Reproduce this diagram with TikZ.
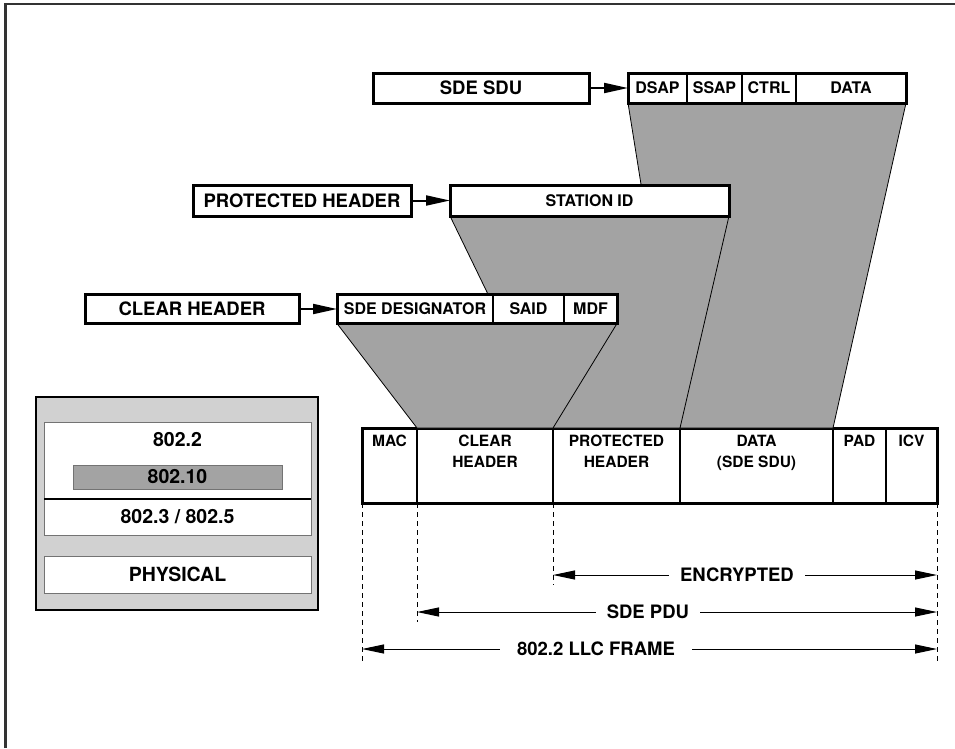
\documentclass[tikz,border=0pt]{standalone}
\usepackage{fontspec}
\setmainfont{TeX Gyre Heros}
\usetikzlibrary{arrows.meta}
\begin{document}
\begin{tikzpicture}[x=1pt,y=-1pt,
  bigbox/.style={draw, line width=3pt, fill=white, inner sep=0pt, outer sep=0pt,
    font=\fontsize{18.5}{22}\selectfont\bfseries},
  fld/.style={draw, line width=1.8pt, fill=white, inner sep=0pt, outer sep=0pt,
    font=\fontsize{16}{19}\selectfont\bfseries},
  frm/.style={draw, line width=1.8pt, fill=white, inner sep=0pt, outer sep=0pt,
    minimum height=75pt},
  ftxt/.style={inner sep=0pt, align=center, anchor=north, font=\fontsize{15.5}{21}\selectfont\bfseries},
  shade/.style={fill=black!36, draw=black, line width=0.8pt},
  feed/.style={line width=2pt, -{Triangle[length=24pt,width=10pt]}},
  dimarr/.style={line width=1pt, {Triangle[length=22pt,width=9pt]}-{Triangle[length=22pt,width=9pt]}},
  dimlbl/.style={fill=white, inner xsep=11pt, inner ysep=2pt, font=\fontsize{18.5}{22}\selectfont\bfseries},
  dsh/.style={line width=0.8pt, dash pattern=on 5pt off 4pt},
  stk/.style={draw=black!55, line width=1pt, fill=white, inner sep=0pt, outer sep=0pt,
    font=\fontsize{19.5}{24}\selectfont\bfseries},
  stxt/.style={inner sep=0pt, font=\fontsize{19.5}{24}\selectfont\bfseries}
]
\useasboundingbox (0,0) rectangle (955,748);
% outer page frame
\draw[line width=2.5pt, black!80] (5.5,748) -- (5.5,4) -- (955,4);

% ---- main frame fields
\node[frm, minimum width=55pt]  (fmac)   at (389.5,465.5) {};
\node[frm, minimum width=136pt] (fclear) at (485,465.5) {};
\node[frm, minimum width=127pt] (fprot)  at (616.5,465.5) {};
\node[frm, minimum width=153pt] (fdata)  at (756.5,465.5) {};
\node[frm, minimum width=53pt]  (fpad)   at (859.5,465.5) {};
\node[frm, minimum width=51pt]  (ficv)   at (911.5,465.5) {};
\draw[line width=3pt] (fmac.north west) rectangle (ficv.south east);
\node[ftxt] (tmac)   at ([yshift=-7pt]fmac.north)   {MAC};
\node[ftxt] (tclear) at ([yshift=-7pt]fclear.north) {CLEAR\\HEADER};
\node[ftxt] (tprot)  at ([yshift=-7pt]fprot.north)  {PROTECTED\\HEADER};
\node[ftxt] (tdata)  at ([yshift=-7pt]fdata.north)  {DATA\\(SDE SDU)};
\node[ftxt] (tpad)   at ([yshift=-7pt]fpad.north)   {PAD};
\node[ftxt] (ticv)   at ([yshift=-7pt]ficv.north)   {ICV};

% ---- top row: SDE SDU fields
\node[fld, minimum width=59pt, minimum height=30pt] (dsap) at (657.5,88) {DSAP};
\node[fld, minimum width=55pt, minimum height=30pt] (ssap) at (714.5,88) {SSAP};
\node[fld, minimum width=54pt, minimum height=30pt] (ctrl) at (769,88) {CTRL};
\node[fld, minimum width=110pt, minimum height=30pt] (sdata) at (851,88) {DATA};

% shading 3 (SDU -> data), drawn first
\draw[shade] (dsap.south west) -- (sdata.south east) -- (fdata.north east) -- (fdata.north west) -- cycle;

% row 2
\node[bigbox, minimum width=279pt, minimum height=31pt, font=\fontsize{16}{19}\selectfont\bfseries] (station) at (589.5,200.5) {STATION ID};
\draw[shade] (station.south west) -- (station.south east) -- (fprot.north east) -- (fprot.north west) -- cycle;
\node[bigbox, minimum width=279pt, minimum height=31pt, font=\fontsize{16}{19}\selectfont\bfseries] at (station) {STATION ID};

% row 3
\node[fld, minimum width=156pt, minimum height=29pt] (sdedes) at (415,309) {SDE DESIGNATOR};
\node[fld, minimum width=71pt, minimum height=29pt] (said) at (528.5,309) {SAID};
\node[fld, minimum width=53pt, minimum height=29pt] (mdf) at (590.5,309) {MDF};
\draw[shade] (sdedes.south west) -- (mdf.south east) -- (fclear.north east) -- (fclear.north west) -- cycle;
\node[fld, minimum width=156pt, minimum height=29pt] at (sdedes) {SDE DESIGNATOR};
\node[fld, minimum width=71pt, minimum height=29pt] at (said) {SAID};
\node[fld, minimum width=53pt, minimum height=29pt] at (mdf) {MDF};
\draw[line width=3pt] (sdedes.north west) rectangle (mdf.south east);

% redraw top row above shading
\node[fld, minimum width=59pt, minimum height=30pt] at (dsap) {DSAP};
\node[fld, minimum width=55pt, minimum height=30pt] at (ssap) {SSAP};
\node[fld, minimum width=54pt, minimum height=30pt] at (ctrl) {CTRL};
\node[fld, minimum width=110pt, minimum height=30pt] at (sdata) {DATA};
\draw[line width=3pt] (dsap.north west) rectangle (sdata.south east);

% big label boxes and feed arrows
\node[bigbox, minimum width=216pt, minimum height=30pt] (sdu) at (481,88) {SDE SDU};
\node[bigbox, minimum width=218pt, minimum height=31pt] (ph) at (302,200.5) {PROTECTED HEADER};
\node[bigbox, minimum width=214pt, minimum height=29pt] (ch) at (192,309) {CLEAR HEADER};
\draw[feed] (sdu.east) -- (dsap.west);
\draw[feed] (ph.east) -- (station.west);
\draw[feed] (ch.east) -- (sdedes.west);

% ---- dashed extension lines and dimension arrows
\path (fmac.south west) ++(0,160) coordinate (d1)
      (fclear.south west) ++(0,119) coordinate (d2)
      (fprot.south west) ++(0,82) coordinate (d3)
      (ficv.south east) ++(0,160) coordinate (d4);
\draw[dsh] (fmac.south west) -- (d1);
\draw[dsh] (fclear.south west) -- (d2);
\draw[dsh] (fprot.south west) -- (d3);
\draw[dsh] (ficv.south east) -- (d4);

\path (fprot.south west) ++(0,72) coordinate (encL)
      (ficv.south east) ++(0,72) coordinate (encR)
      (fclear.south west) ++(0,109) coordinate (pduL)
      (ficv.south east) ++(0,109) coordinate (pduR)
      (fmac.south west) ++(0,146) coordinate (llcL)
      (ficv.south east) ++(0,146) coordinate (llcR);
\draw[dimarr] (encL) -- node[dimlbl, pos=0.479] (tenc) {ENCRYPTED} (encR);
\draw[dimarr] (pduL) -- node[dimlbl, pos=0.444] (tpdu) {SDE PDU} (pduR);
\draw[dimarr] (llcL) -- node[dimlbl, pos=0.407, inner xsep=17pt] (tllc) {802.2 LLC FRAME} (llcR);

% ---- protocol stack
\node[draw, line width=2pt, fill=black!18, minimum width=282pt, minimum height=213pt,
      inner sep=0pt, outer sep=0pt] (stack) at (177,503.5) {};
\node[stk, minimum width=267pt, minimum height=77pt] (l8022) at (177.5,460.5) {};
\node[stxt] (t8022) at (177.5,440) {802.2};
\node[stk, fill=black!36, minimum width=209pt, minimum height=24pt] (l80210) at (177.5,477) {802.10};
\node[stk, minimum width=267pt, minimum height=36pt] (l8023) at (177.5,517) {802.3 / 802.5};
\draw[line width=1.2pt] (l8023.north west) -- (l8023.north east);
\node[stk, minimum width=267pt, minimum height=37pt] (lphy) at (177.5,574.5) {PHYSICAL};
\end{tikzpicture}
\end{document}
